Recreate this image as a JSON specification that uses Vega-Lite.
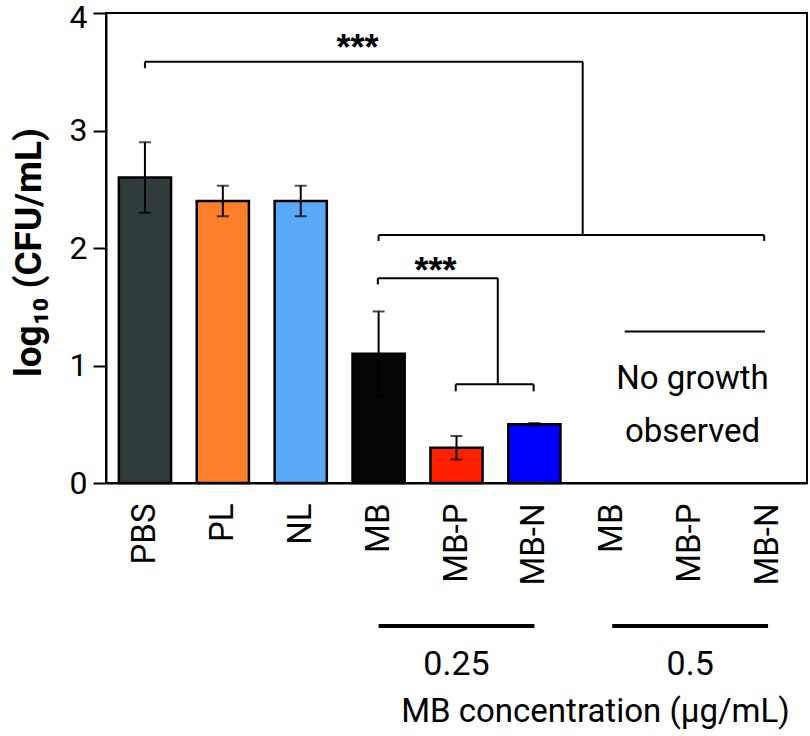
{
  "$schema": "https://vega.github.io/schema/vega-lite/v6.json",
  "width": 701,
  "height": 470,
  "autosize": {"type": "none"},
  "padding": {"left": 106, "top": 13, "right": 3, "bottom": 253},
  "background": "white",
  "config": {
    "font": "Roboto",
    "view": {"stroke": "black", "strokeWidth": 2},
    "axis": {"grid": false, "domainColor": "black", "domainWidth": 2, "labelColor": "black", "titleColor": "black", "tickColor": "black", "labelFont": "Roboto", "titleFont": "Roboto"}
  },
  "datasets": {
    "counts": [
      {"sample": "PBS", "mean": 2.6, "sd": 0.3},
      {"sample": "PL", "mean": 2.4, "sd": 0.13},
      {"sample": "NL", "mean": 2.4, "sd": 0.13},
      {"sample": "MB 0.25", "mean": 1.1, "sd": 0.36},
      {"sample": "MB-P 0.25", "mean": 0.3, "sd": 0.1},
      {"sample": "MB-N 0.25", "mean": 0.5, "sd": 0.01},
      {"sample": "MB 0.5", "mean": null, "sd": null},
      {"sample": "MB-P 0.5", "mean": null, "sd": null},
      {"sample": "MB-N 0.5", "mean": null, "sd": null}
    ],
    "concentrations": [
      {"conc": "0.25", "first": "MB 0.25", "mid": "MB-P 0.25", "last": "MB-N 0.25"},
      {"conc": "0.5", "first": "MB 0.5", "mid": "MB-P 0.5", "last": "MB-N 0.5"}
    ],
    "brackets": [
      {"x": 0.5, "x2": 6.12, "y": 3.585, "y2": 3.585},
      {"x": 0.5, "x2": 0.5, "y": 3.585, "y2": 3.53},
      {"x": 6.12, "x2": 6.12, "y": 3.585, "y2": 2.11},
      {"x": 3.5, "x2": 8.45, "y": 2.11, "y2": 2.11},
      {"x": 3.5, "x2": 3.5, "y": 2.11, "y2": 2.06},
      {"x": 8.45, "x2": 8.45, "y": 2.11, "y2": 2.06},
      {"x": 3.49, "x2": 5.03, "y": 1.742, "y2": 1.742},
      {"x": 3.49, "x2": 3.49, "y": 1.742, "y2": 1.69},
      {"x": 5.03, "x2": 5.03, "y": 1.742, "y2": 0.84},
      {"x": 4.49, "x2": 5.49, "y": 0.84, "y2": 0.84},
      {"x": 4.49, "x2": 4.49, "y": 0.84, "y2": 0.78},
      {"x": 5.49, "x2": 5.49, "y": 0.84, "y2": 0.78},
      {"x": 6.66, "x2": 8.46, "y": 1.29, "y2": 1.29}
    ],
    "stars": [
      {"x": 3.23, "y": 3.6, "text": "***"},
      {"x": 4.23, "y": 1.7, "text": "***"}
    ],
    "notes": [
      {"x": 7.53, "y": 0.8, "text": "No growth"},
      {"x": 7.53, "y": 0.35, "text": "observed"}
    ]
  },
  "layer": [
    {
      "layer": [
        {
          "data": {"name": "counts"},
          "mark": {"type": "bar", "stroke": "black", "strokeWidth": 2.5},
          "encoding": {
            "x": {
              "field": "sample",
              "type": "nominal",
              "sort": null,
              "scale": {
                "domain": ["PBS", "PL", "NL", "MB 0.25", "MB-P 0.25", "MB-N 0.25", "MB 0.5", "MB-P 0.5", "MB-N 0.5"],
                "paddingInner": 0.33,
                "paddingOuter": 0.165
              },
              "axis": {
                "title": "MB concentration (μg/mL)",
                "titleFontSize": 33,
                "titleFontWeight": "normal",
                "titleX": 489,
                "titleY": 238,
                "titleAlign": "center",
                "titleBaseline": "alphabetic",
                "labelExpr": "split(datum.value, ' ')[0]",
                "labelAngle": -90,
                "labelFontSize": 33,
                "labelPadding": 20,
                "ticks": false,
                "tickSize": 0
              }
            },
            "y": {
              "field": "mean",
              "type": "quantitative",
              "scale": {"domain": [0, 4], "nice": false},
              "axis": {
                "title": "log₁₀ (CFU/mL)",
                "titleFontWeight": "bold",
                "titleFontSize": 37,
                "titleAngle": -90,
                "titleX": -66,
                "titleY": 239,
                "titleAlign": "center",
                "titleBaseline": "alphabetic",
                "values": [0, 1, 2, 3, 4],
                "format": "d",
                "labelFontSize": 32,
                "labelPadding": 6,
                "labelOffset": {"condition": {"test": "datum.value === 4", "value": 4}, "value": 0},
                "tickSize": 13,
                "tickWidth": 2
              }
            },
            "color": {
              "field": "sample",
              "type": "nominal",
              "scale": {
                "domain": ["PBS", "PL", "NL", "MB 0.25", "MB-P 0.25", "MB-N 0.25"],
                "range": ["#2f3c3b", "#fd7f2b", "#5aa9f6", "#050505", "#ff2000", "#0000ff"]
              },
              "legend": null
            }
          }
        },
        {
          "data": {"name": "counts"},
          "transform": [{"filter": "isValid(datum.mean)"}],
          "mark": {"type": "errorbar", "color": "black", "thickness": 2, "ticks": {"size": 12, "thickness": 2, "color": "black"}},
          "encoding": {
            "x": {"field": "sample", "type": "nominal", "sort": null},
            "y": {"field": "mean", "type": "quantitative", "title": "log₁₀ (CFU/mL)"},
            "yError": {"field": "sd"}
          }
        },
        {
          "data": {"name": "concentrations"},
          "mark": {"type": "rule", "strokeWidth": 4, "color": "black", "clip": false},
          "encoding": {
            "x": {"field": "first", "type": "nominal", "sort": null},
            "x2": {"field": "last"},
            "y": {"datum": -1.217}
          }
        },
        {
          "data": {"name": "concentrations"},
          "mark": {"type": "text", "fontSize": 34, "color": "black", "baseline": "alphabetic", "align": "center", "clip": false},
          "encoding": {
            "x": {"field": "mid", "type": "nominal", "sort": null},
            "y": {"datum": -1.634},
            "text": {"field": "conc"}
          }
        }
      ]
    },
    {
      "layer": [
        {
          "data": {"name": "brackets"},
          "mark": {"type": "rule", "strokeWidth": 2, "color": "black"},
          "encoding": {
            "x": {"field": "x", "type": "quantitative", "scale": {"domain": [0, 9], "nice": false, "zero": false}, "axis": null},
            "x2": {"field": "x2"},
            "y": {"field": "y", "type": "quantitative", "title": "log₁₀ (CFU/mL)"},
            "y2": {"field": "y2"}
          }
        },
        {
          "data": {"name": "stars"},
          "mark": {"type": "text", "font": "Liberation Sans", "fontWeight": "bold", "fontSize": 36, "color": "black", "baseline": "alphabetic", "align": "center"},
          "encoding": {
            "x": {"field": "x", "type": "quantitative"},
            "y": {"field": "y", "type": "quantitative"},
            "text": {"field": "text"}
          }
        },
        {
          "data": {"name": "notes"},
          "mark": {"type": "text", "fontSize": 33, "color": "black", "baseline": "alphabetic", "align": "center"},
          "encoding": {
            "x": {"field": "x", "type": "quantitative"},
            "y": {"field": "y", "type": "quantitative"},
            "text": {"field": "text"}
          }
        }
      ]
    }
  ],
  "resolve": {"scale": {"x": "independent"}}
}
